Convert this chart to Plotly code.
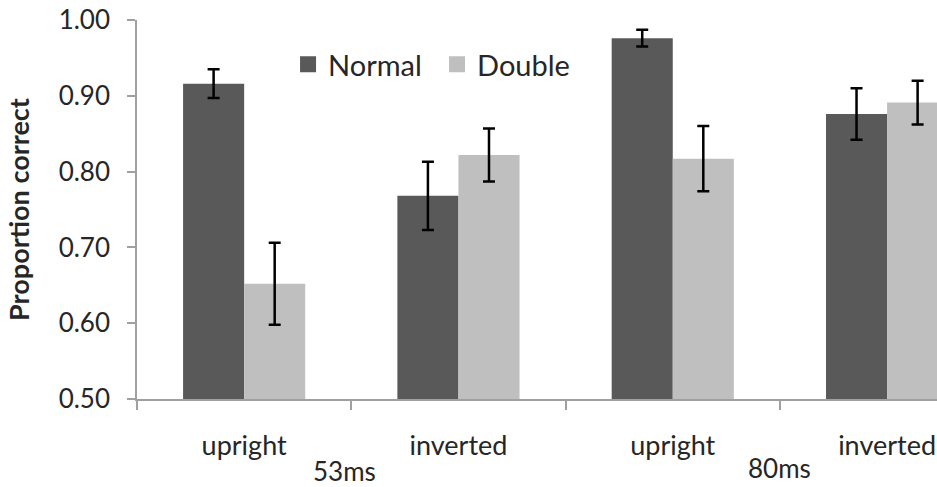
import plotly.graph_objects as go

categories = ["upright", "inverted", "upright", "inverted"]
groups = ["53ms", "80ms"]
normal = [0.916, 0.768, 0.976, 0.876]
normal_err = [0.019, 0.045, 0.011, 0.034]
double = [0.652, 0.822, 0.817, 0.891]
double_err = [0.054, 0.035, 0.043, 0.029]
y_ticks = [0.5, 0.6, 0.7, 0.8, 0.9, 1.0]

FONT = "Lato"
TXT = "#262626"
AX = "#a0a0a0"
C_N = "#595959"
C_D = "#bfbfbf"

xpos = list(range(len(categories)))

fig = go.Figure()
fig.add_trace(go.Bar(
    x=xpos, y=normal, name="Normal", marker=dict(color=C_N, line=dict(width=0)),
    error_y=dict(type="data", array=normal_err, color="black", thickness=2.5, width=6),
    showlegend=False))
fig.add_trace(go.Bar(
    x=xpos, y=double, name="Double", marker=dict(color=C_D, line=dict(width=0)),
    error_y=dict(type="data", array=double_err, color="black", thickness=2.5, width=6),
    showlegend=False))
# legend entries
fig.add_trace(go.Scatter(x=[None], y=[None], mode="markers", name="Normal",
                         marker=dict(symbol="square", size=17, color=C_N)))
fig.add_trace(go.Scatter(x=[None], y=[None], mode="markers", name="Double",
                         marker=dict(symbol="square", size=17, color=C_D)))

# group labels
group_shift = [(-7, -72), (0, -69)]
for i, g in enumerate(groups):
    fig.add_annotation(x=2 * i + 0.5, y=0, xref="x", yref="paper", text=g,
                       showarrow=False, yanchor="middle",
                       xshift=group_shift[i][0], yshift=group_shift[i][1],
                       font=dict(family=FONT, size=26, color=TXT))

fig.update_layout(
    width=937, height=487,
    margin=dict(l=137, r=0, t=20, b=88),
    plot_bgcolor="white", paper_bgcolor="white",
    barmode="group", bargap=0.43, bargroupgap=0,
    font=dict(family=FONT, color=TXT),
    legend=dict(orientation="h", x=0.1888, y=0.883, xanchor="left", yanchor="middle",
                font=dict(family=FONT, size=29, color=TXT), bgcolor="rgba(0,0,0,0)",
                entrywidth=104),
    xaxis=dict(range=[-0.5, 3.233], tickvals=xpos, ticktext=categories, ticks="",
               showline=True, linecolor=AX, linewidth=1.5, showgrid=False, zeroline=False,
               tickfont=dict(family=FONT, size=27, color=TXT), ticklabelstandoff=22,
               minor=dict(tick0=-0.5, dtick=1, ticks="outside", ticklen=9, tickcolor=AX,
                          tickwidth=1.5, showgrid=False)),
    yaxis=dict(range=[0.5, 1.0], tickvals=y_ticks, tickformat=".2f", ticks="outside",
               ticklen=8, tickcolor=AX, tickwidth=1.5, showline=True, linecolor=AX,
               linewidth=1.5, showgrid=False, zeroline=False,
               tickfont=dict(family=FONT, size=26, color=TXT), ticklabelstandoff=12,
               title=dict(text="<b>Proportion correct</b>", standoff=21,
                          font=dict(family=FONT, size=27, color=TXT))),
)

fig.write_html("out.html")
